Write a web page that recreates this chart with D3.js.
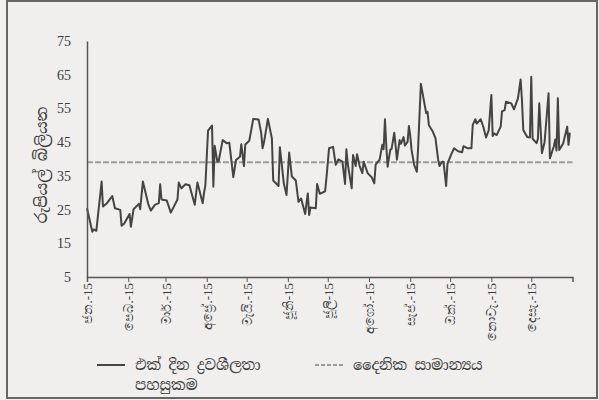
<!DOCTYPE html>
<html>
<head>
<meta charset="utf-8">
<script src="https://cdn.jsdelivr.net/npm/d3@7.9.0/dist/d3.min.js"></script>
<style>
  html, body { margin: 0; padding: 0; background: #f0efee; }
  svg { display: block; }
  .tick text { font-family: "Liberation Serif", serif; fill: #3a3a3a; }
</style>
</head>
<body>
<div id="chart"></div>
<script>
// daily liquidity facility (Rs. bn)
const dates = [
  '2015-01-01','2015-01-05','2015-01-06','2015-01-08','2015-01-12','2015-01-13','2015-01-16','2015-01-20',
  '2015-01-22','2015-01-26','2015-01-27','2015-01-29','2015-02-02','2015-02-03','2015-02-05','2015-02-09',
  '2015-02-10','2015-02-12','2015-02-16','2015-02-18','2015-02-21','2015-02-24','2015-02-25','2015-02-26',
  '2015-03-02','2015-03-05','2015-03-10','2015-03-11','2015-03-13','2015-03-16','2015-03-19','2015-03-23',
  '2015-03-25','2015-03-29','2015-03-30','2015-03-31','2015-04-02','2015-04-05','2015-04-06','2015-04-07',
  '2015-04-09','2015-04-10','2015-04-13','2015-04-16','2015-04-18','2015-04-21','2015-04-23','2015-04-26',
  '2015-04-27','2015-04-29','2015-04-30','2015-05-03','2015-05-06','2015-05-10','2015-05-12','2015-05-13',
  '2015-05-14','2015-05-17','2015-05-20','2015-05-21','2015-05-25','2015-05-26','2015-05-29','2015-05-31',
  '2015-06-02','2015-06-04','2015-06-07','2015-06-09','2015-06-11','2015-06-14','2015-06-16','2015-06-17',
  '2015-06-18','2015-06-22','2015-06-23','2015-06-25','2015-06-29','2015-06-30','2015-07-02','2015-07-05',
  '2015-07-07','2015-07-09','2015-07-12','2015-07-14','2015-07-15','2015-07-16','2015-07-19','2015-07-20',
  '2015-07-22','2015-07-23','2015-07-25','2015-07-27','2015-07-28','2015-07-31','2015-08-03','2015-08-05',
  '2015-08-06','2015-08-09','2015-08-11','2015-08-12','2015-08-13','2015-08-14','2015-08-15','2015-08-17',
  '2015-08-18','2015-08-20','2015-08-21','2015-08-22','2015-08-24','2015-08-25','2015-08-27','2015-08-28',
  '2015-08-30','2015-08-31','2015-09-01','2015-09-02','2015-09-04','2015-09-06','2015-09-07','2015-09-09',
  '2015-09-13','2015-09-14','2015-09-15','2015-09-18','2015-09-20','2015-09-21','2015-09-22','2015-09-23',
  '2015-09-25','2015-09-26','2015-09-28','2015-09-29','2015-10-02','2015-10-04','2015-10-07','2015-10-10',
  '2015-10-11','2015-10-14','2015-10-17','2015-10-18','2015-10-20','2015-10-21','2015-10-24','2015-10-26',
  '2015-10-28','2015-10-30','2015-11-01','2015-11-02','2015-11-03','2015-11-05','2015-11-08','2015-11-09',
  '2015-11-11','2015-11-12','2015-11-16','2015-11-18','2015-11-21','2015-11-23','2015-11-24','2015-11-25',
  '2015-11-28','2015-11-30','2015-12-01','2015-12-02','2015-12-05','2015-12-06','2015-12-07','2015-12-09',
  '2015-12-11','2015-12-14','2015-12-15','2015-12-18','2015-12-19','2015-12-20','2015-12-21','2015-12-22',
  '2015-12-25','2015-12-28','2015-12-29','2015-12-30'
];
const values = [
  25.4, 18.4, 19.1, 18.7, 33.3, 25.9, 26.9, 29.0,
  25.4, 24.9, 20.2, 20.9, 23.7, 19.9, 25.1, 26.7,
  25.1, 33.3, 26.7, 24.7, 26.4, 26.9, 32.5, 28.0,
  27.7, 24.1, 28.0, 33.0, 31.3, 32.5, 32.2, 26.4,
  33.0, 26.9, 30.0, 32.2, 48.4, 49.9, 31.8, 43.9,
  39.2, 39.4, 45.6, 44.7, 44.8, 34.6, 39.7, 40.7,
  44.4, 37.9, 44.3, 45.4, 51.9, 51.7, 47.6, 43.2,
  44.8, 51.9, 46.1, 33.6, 32.0, 43.5, 32.7, 29.3,
  41.9, 34.8, 33.6, 27.3, 28.3, 23.7, 29.8, 23.4,
  25.6, 25.4, 32.6, 29.7, 30.4, 34.3, 43.2, 43.6,
  38.3, 39.9, 39.2, 32.6, 42.9, 38.6, 31.3, 41.2,
  37.9, 41.4, 37.9, 35.8, 39.2, 35.8, 34.6, 32.8,
  38.3, 39.8, 44.2, 42.9, 51.8, 44.0, 37.7, 42.7,
  43.0, 47.8, 44.0, 39.8, 45.6, 44.5, 46.5, 44.0,
  45.1, 49.8, 47.0, 42.7, 38.2, 36.2, 43.9, 62.3,
  53.6, 54.0, 50.1, 48.1, 46.1, 42.9, 39.8, 37.9,
  39.2, 39.2, 32.0, 38.6, 41.5, 43.2, 42.3, 42.0,
  43.8, 43.2, 43.2, 50.1, 51.8, 50.5, 51.8, 49.5,
  46.4, 48.5, 59.0, 46.8, 47.6, 47.1, 49.6, 54.1,
  54.5, 57.0, 56.5, 54.7, 58.0, 63.6, 57.5, 48.6,
  46.5, 46.4, 64.4, 46.0, 44.7, 46.0, 56.5, 41.7,
  45.0, 59.5, 40.2, 43.8, 45.8, 42.5, 58.0, 42.7,
  44.6, 49.6, 44.2, 47.8
];
const dailyAverage = 39;

const monthLabels = ['ජන.-15', 'පෙබ.-15', 'මාර්.-15', 'අප්‍රේ.-15', 'මැයි.-15', 'ජූනි-15',
  'ජූලි-15', 'අගෝ.-15', 'සැප්.-15', 'ඔක්.-15', 'නොවැ.-15', 'දෙසැ.-15'];
const yTicks = [5, 15, 25, 35, 45, 55, 65, 75];
const yTitle = 'රුපියල් බිලියන';
const seriesNames = ['එක් දින ද්‍රවශීලතා', 'පහසුකම'];
const averageName = 'දෛනික සාමාන්‍යය';

const parse = d3.timeParse('%Y-%m-%d');
const data = dates.map((d, i) => ({ date: parse(d), value: values[i] }));

const width = 599;
const height = 400;
const sinhala = '"Noto Serif Sinhala", "Iskoola Pota", "Noto Sans Sinhala", serif';

const svg = d3.select('#chart')
  .append('svg')
  .attr('width', width)
  .attr('height', height);

// outer frame
svg.append('rect')
  .attr('x', 7).attr('y', 1)
  .attr('width', 590).attr('height', 397)
  .attr('fill', '#f0efee')
  .attr('stroke', '#666')
  .attr('stroke-width', 2);

const xScale = d3.scaleTime()
  .domain([new Date(2015, 0, 1), new Date(2016, 0, 1)])
  .range([87, 572.5]);
const yScale = d3.scaleLinear().domain([5, 75]).range([277, 41]);

// average line
svg.append('line')
  .attr('x1', xScale.range()[0])
  .attr('x2', xScale.range()[1])
  .attr('y1', yScale(dailyAverage))
  .attr('y2', yScale(dailyAverage))
  .attr('stroke', '#9c9c9c')
  .attr('stroke-width', 2)
  .attr('stroke-dasharray', '6,2');

const line = d3.line()
  .x((d) => xScale(d.date))
  .y((d) => yScale(d.value));

svg.append('path')
  .datum(data)
  .attr('fill', 'none')
  .attr('stroke', '#444')
  .attr('stroke-width', 2)
  .attr('stroke-linejoin', 'round')
  .attr('d', line);

// y axis
const yAxis = svg.append('g')
  .attr('transform', 'translate(87,0)')
  .call(d3.axisLeft(yScale).tickValues(yTicks).tickSize(0).tickPadding(16));
yAxis.select('.domain').attr('stroke', '#555').attr('stroke-width', 1.5);
yAxis.selectAll('text').attr('font-size', 14);

// x axis
const months = d3.timeMonths(new Date(2015, 0, 1), new Date(2016, 0, 1));
const xAxis = svg.append('g')
  .attr('transform', 'translate(0,277)')
  .call(d3.axisBottom(xScale).tickValues(months).tickSizeOuter(0).tickSize(5)
    .tickFormat((d, i) => monthLabels[i]));
xAxis.select('.domain').attr('stroke', '#555').attr('stroke-width', 1.5);
xAxis.selectAll('line').attr('stroke', '#555');
xAxis.selectAll('text')
  .attr('font-size', 13)
  .attr('font-family', sinhala)
  .attr('text-anchor', 'end')
  .attr('transform', 'rotate(-90)')
  .attr('x', -6)
  .attr('y', 0)
  .attr('dy', '0.35em');

// y title
svg.append('text')
  .attr('transform', 'translate(41,165) rotate(-90)')
  .attr('text-anchor', 'middle')
  .attr('dy', '0.35em')
  .attr('font-family', sinhala)
  .attr('font-size', 16)
  .attr('fill', '#3a3a3a')
  .text(yTitle);

// legend
const legend = svg.append('g').attr('font-family', sinhala).attr('font-size', 14.5).attr('fill', '#3a3a3a');
legend.append('line')
  .attr('x1', 97).attr('x2', 125).attr('y1', 365).attr('y2', 365)
  .attr('stroke', '#444').attr('stroke-width', 2);
legend.append('text')
  .attr('x', 135).attr('y', 370)
  .text(seriesNames[0]);
legend.append('text')
  .attr('x', 135).attr('y', 390)
  .text(seriesNames[1]);
legend.append('line')
  .attr('x1', 315).attr('x2', 343).attr('y1', 365).attr('y2', 365)
  .attr('stroke', '#9c9c9c').attr('stroke-width', 2)
  .attr('stroke-dasharray', '4,2');
legend.append('text')
  .attr('x', 353).attr('y', 370)
  .text(averageName);
</script>
</body>
</html>
